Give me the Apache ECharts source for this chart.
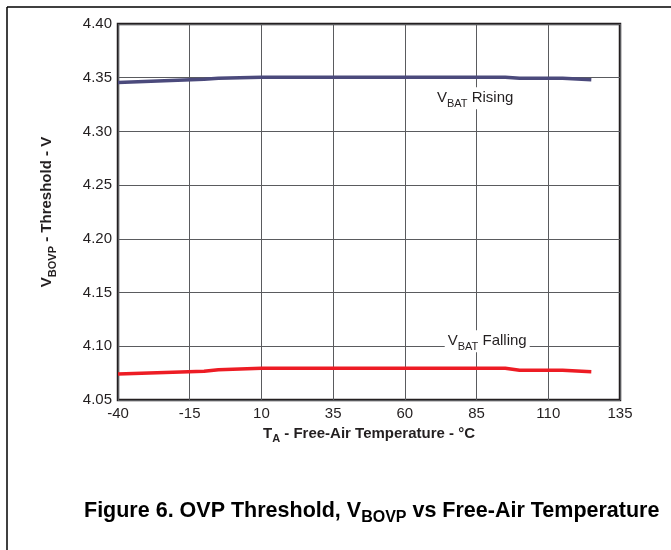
<!DOCTYPE html>
<html>
<head>
<meta charset="utf-8">
<script src="https://cdn.jsdelivr.net/npm/echarts@6/dist/echarts.min.js"></script>
<style>
  html, body { margin: 0; padding: 0; background: #fff; }
  #chart { width: 671px; height: 550px; }
</style>
</head>
<body>
<div id="chart"></div>
<script>
// 温度 (°C)
var risingTemp = [-40, -10, -5, 10, 95, 100, 115, 125];
var risingVolt = [4.3455, 4.3485, 4.3495, 4.3505, 4.3505, 4.3495, 4.3495, 4.348];
var fallingTemp = [-40, -10, -5, 10, 95, 100, 115, 125];
var fallingVolt = [4.0742, 4.0768, 4.0782, 4.0795, 4.0795, 4.0776, 4.0776, 4.0763];
var xTicks = [-40, -15, 10, 35, 60, 85, 110, 135];
var yTicks = [4.05, 4.10, 4.15, 4.20, 4.25, 4.30, 4.35, 4.40];

var FONT = 'Liberation Sans, Arial, sans-serif';

function pairs(xs, ys) {
  return xs.map(function (x, i) { return [x, ys[i]]; });
}

var chart = echarts.init(document.getElementById('chart'));

// 下标: 主文字居中, 下标贴底, 这样下标会低一点
function richSet(big, small, bold, color) {
  var w = bold ? 'bold' : 'normal';
  return {
    v: { fontSize: big, fontWeight: w, fontFamily: FONT, color: color, lineHeight: big + 7, verticalAlign: 'middle' },
    s: { fontSize: small, fontWeight: w, fontFamily: FONT, color: color, lineHeight: small, verticalAlign: 'bottom' }
  };
}
var subRich = richSet(15, 11, false, '#231f20');
var boldRich = richSet(15, 11, true, '#231f20');
var titleRich = richSet(21.5, 16, true, '#000');

function annot(coord, text) {
  return {
    coord: coord,
    symbol: 'rect',
    symbolSize: 1,
    itemStyle: { color: 'rgba(0,0,0,0)' },
    label: {
      show: true,
      position: 'inside',
      formatter: text,
      backgroundColor: '#fff',
      padding: [0, 3, 0, 3],
      rich: subRich
    }
  };
}

var option = {
  animation: false,
  backgroundColor: '#fff',
  title: {
    text: '{v|Figure 6. OVP Threshold, V}{s|BOVP}{v| vs Free-Air Temperature}',
    left: 84,
    top: 497,
    padding: 0,
    textStyle: { rich: titleRich }
  },
  graphic: [
    { type: 'line', shape: { x1: 7, y1: 7, x2: 671, y2: 7 }, style: { stroke: '#000', lineWidth: 1.5 } },
    { type: 'line', shape: { x1: 7, y1: 7, x2: 7, y2: 550 }, style: { stroke: '#000', lineWidth: 1.5 } }
  ],
  grid: {
    left: 118,
    right: 51,
    top: 24,
    bottom: 150,
    show: true,
    borderColor: '#231f20',
    borderWidth: 2.5,
    containLabel: false
  },
  xAxis: {
    type: 'value',
    min: xTicks[0],
    max: xTicks[xTicks.length - 1],
    interval: 25,
    name: '{v|T}{s|A}{v| - Free-Air Temperature - °C}',
    nameLocation: 'middle',
    nameGap: 22,
    nameTextStyle: { rich: boldRich },
    axisLine: { show: false },
    axisTick: { show: false },
    axisLabel: { fontSize: 15, fontFamily: FONT, color: '#231f20', margin: 6 },
    splitLine: { lineStyle: { color: '#5a5b5e', width: 1 } }
  },
  yAxis: {
    type: 'value',
    min: yTicks[0],
    max: yTicks[yTicks.length - 1],
    interval: 0.05,
    name: '{v|V}{s|BOVP}{v| - Threshold - V}',
    nameLocation: 'middle',
    nameGap: 60,
    nameRotate: 90,
    nameTextStyle: { rich: boldRich },
    axisLine: { show: false },
    axisTick: { show: false },
    axisLabel: {
      fontSize: 15, fontFamily: FONT, color: '#231f20', margin: 6,
      formatter: function (v) { return v.toFixed(2); }
    },
    splitLine: { lineStyle: { color: '#5a5b5e', width: 1 } }
  },
  series: [
    {
      name: 'VBAT Rising',
      type: 'line',
      data: pairs(risingTemp, risingVolt),
      symbol: 'none',
      lineStyle: { color: '#4b4a7c', width: 3.5 },
      markPoint: { data: [annot([84.5, 4.331], '{v|V}{s|BAT}{v| Rising}')] }
    },
    {
      name: 'VBAT Falling',
      type: 'line',
      data: pairs(fallingTemp, fallingVolt),
      symbol: 'none',
      lineStyle: { color: '#ed1c24', width: 3.5 },
      markPoint: { data: [annot([88.7, 4.1048], '{v|V}{s|BAT}{v| Falling}')] }
    }
  ]
};

chart.setOption(option);
window.addEventListener('resize', function () { chart.resize(); });
</script>
</body>
</html>
